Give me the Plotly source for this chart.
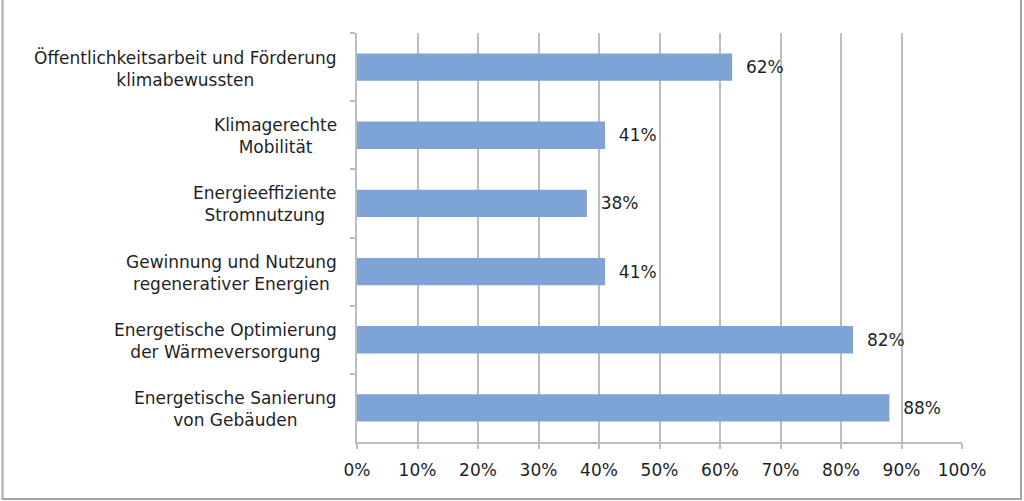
import plotly.graph_objects as go

categories = [
    "Öffentlichkeitsarbeit und Förderung<br>klimabewussten",
    "Klimagerechte<br>Mobilität",
    "Energieeffiziente<br>Stromnutzung",
    "Gewinnung und Nutzung<br>regenerativer Energien",
    "Energetische Optimierung<br>der Wärmeversorgung",
    "Energetische Sanierung<br>von Gebäuden",
]
values = [0.62, 0.41, 0.38, 0.41, 0.82, 0.88]
value_labels = ["62%", "41%", "38%", "41%", "82%", "88%"]
tick_vals = [0, 0.1, 0.2, 0.3, 0.4, 0.5, 0.6, 0.7, 0.8, 0.9, 1.0]
tick_text = ["0%", "10%", "20%", "30%", "40%", "50%", "60%", "70%", "80%", "90%", "100%"]

FONT = "DejaVu Sans"
TXT = "#1F1F1F"
GRID = "#BDBDBD"

fig = go.Figure()
fig.add_trace(go.Bar(
    y=categories, x=values, orientation="h",
    marker=dict(color="#7EA3D7", line=dict(width=0)),
    width=0.4,
    text=["  " + t for t in value_labels],
    textposition="outside",
    textfont=dict(family=FONT, size=17, color=TXT),
    cliponaxis=False,
    hoverinfo="skip",
))

for c in categories:
    fig.add_annotation(
        x=0, xref="paper", y=c, yref="y", text=c,
        xanchor="right", yanchor="middle", xshift=-18, yshift=-1, align="center",
        showarrow=False, font=dict(family=FONT, size=17, color=TXT),
    )

# outer frame
fig.add_shape(type="rect", xref="paper", yref="paper",
              x0=(2.5 - 357) / 605, x1=(1021 - 357) / 605,
              y0=(442 - 499) / 409, y1=(442 + 5) / 409,
              line=dict(color="#A6A6A6", width=2), fillcolor="rgba(0,0,0,0)", layer="below")

fig.update_layout(
    width=1024, height=501,
    margin=dict(l=357, r=62, t=33, b=59),
    paper_bgcolor="white", plot_bgcolor="white",
    showlegend=False,
    font=dict(family=FONT, size=17, color=TXT),
    xaxis=dict(
        range=[0, 1.0], tickvals=tick_vals, ticktext=tick_text,
        showgrid=True, gridcolor=GRID, gridwidth=2,
        showline=True, linecolor=GRID, linewidth=2,
        ticks="outside", ticklen=5, tickcolor=GRID, tickwidth=2,
        tickfont=dict(family=FONT, size=17, color=TXT),
        ticklabelstandoff=7,
        zeroline=False, fixedrange=True,
    ),
    yaxis=dict(
        autorange="reversed", showticklabels=False,
        showline=True, linecolor=GRID, linewidth=2,
        ticks="outside", ticklen=5, tickcolor=GRID, tickwidth=2,
        tickson="boundaries", showgrid=False, zeroline=False,
        fixedrange=True,
    ),
)

fig.write_html("out.html", config={"displayModeBar": False},
               post_script="document.body.style.margin='0';document.body.style.overflow='hidden';")
